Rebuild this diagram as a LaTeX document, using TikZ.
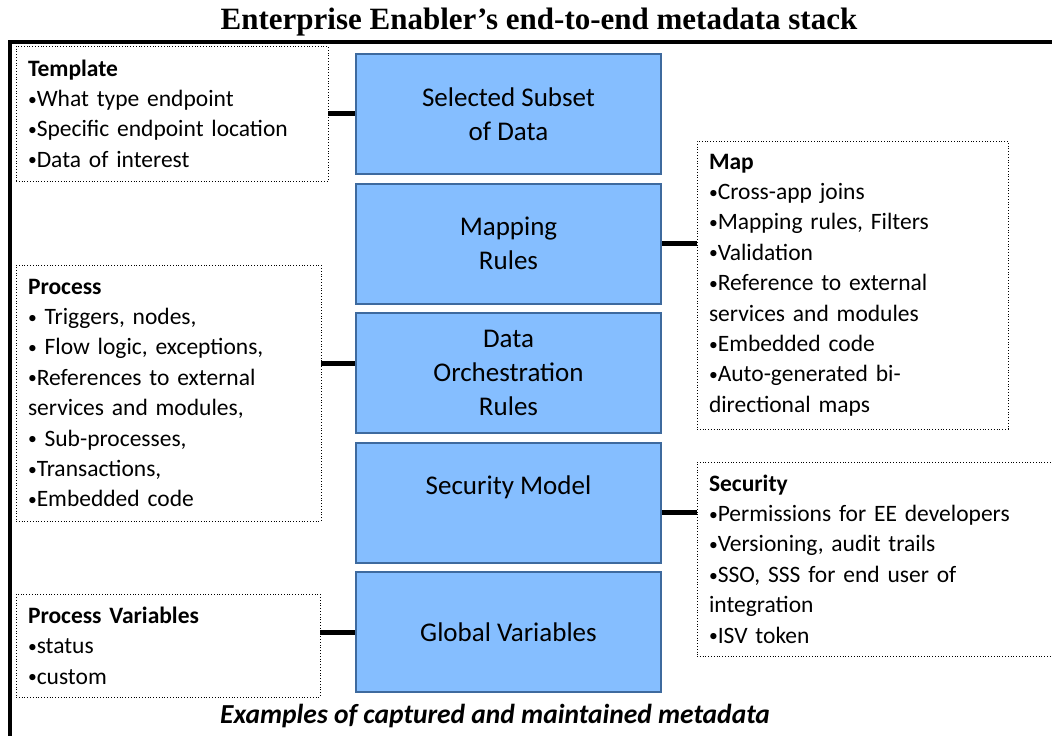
\documentclass[tikz,border=0pt]{standalone}
\usepackage{fontspec}
\setmainfont{Carlito}
\newfontfamily\titlefont{Liberation Serif}
\usepackage{xcolor}
\usepackage{tikz}
\usetikzlibrary{positioning}
\definecolor{stackfill}{RGB}{133,190,255}
\definecolor{stackedge}{RGB}{62,106,158}
\newcommand{\itemdot}{\raisebox{0.12ex}{\scalebox{0.75}{•}}}
\tikzstyle{layer} = [rectangle, minimum width=305pt, minimum height=120pt, align=center, draw=stackedge, line width=2pt, fill=stackfill, font=\fontsize{27}{34}\selectfont]
\tikzstyle{note} = [rectangle, draw=black, dotted, line width=0.8pt, align=left, inner xsep=12pt, inner ysep=0pt, font=\fontsize{23.5}{30.4}\selectfont]
\tikzstyle{link} = [line width=5pt]

\begin{document}
\begin{tikzpicture}[x=1pt, y=-1pt]
   \useasboundingbox (0,0) rectangle (1052,736);
   \clip (0,0) rectangle (1052,736);
   \draw [line width=4pt] (10,745) -- (10,42) -- (1060,42);
   \node (title) at (539,22) {\titlefont\bfseries\fontsize{31}{31}\selectfont Enterprise Enabler’s end-to-end metadata stack};
   \node (sel) [layer] at (508.5,114) {Selected Subset\\of Data};
   \node (rules) [layer, below=7.5pt of sel] {Mapping\\Rules};
   \node (orch) [layer, below=7.5pt of rules] {Data\\Orchestration\\Rules};
   \node (secm) [layer, below=7.5pt of orch] {Security Model\\~};
   \node (gvar) [layer, below=7.5pt of secm] {Global Variables};
   \node (tmpl) [note, text width=288pt, minimum height=135pt] at (172,113.5) {\textbf{Template}\\\itemdot What type endpoint\\\itemdot Specific endpoint location\\\itemdot Data of interest};
   \node (map) [note, text width=287pt, minimum height=288pt] at (852.5,285) {\textbf{Map}\\\itemdot Cross-app joins\\\itemdot Mapping rules, Filters\\\itemdot Validation\\\itemdot Reference to external\\services and modules\\\itemdot Embedded code\\\itemdot Auto-generated bi-\\directional maps};
   \node (proc) [note, text width=281pt, minimum height=256pt] at (168.5,393) {\textbf{Process}\\\itemdot{} Triggers, nodes,\\\itemdot{} Flow logic, exceptions,\\\itemdot References to external\\services and modules,\\\itemdot{} Sub-processes,\\\itemdot Transactions,\\\itemdot Embedded code};
   \node (sec) [note, text width=354pt, minimum height=194pt] at (886,559) {\textbf{Security}\\\itemdot Permissions for EE developers\\\itemdot Versioning, audit trails\\\itemdot SSO, SSS for end user of\\integration\\\itemdot ISV token};
   \node (pvar) [note, text width=280pt, minimum height=103pt] at (168,645.5) {\textbf{Process Variables}\\\itemdot status\\\itemdot custom};
   \draw [link] (tmpl.east) -- (tmpl.east -| sel.west);
   \draw [link] (rules.east) -- (rules.east -| map.west);
   \draw [link] ([yshift=9.5pt]orch.west) -- ([yshift=9.5pt]orch.west -| proc.east);
   \draw [link] ([yshift=-9.5pt]secm.east) -- ([yshift=-9.5pt]secm.east -| sec.west);
   \draw [link] (gvar.west) -- (gvar.west -| pvar.east);
   \node (caption) at (495,716) {\bfseries\itshape\fontsize{27.5}{27.5}\selectfont Examples of captured and maintained metadata};
\end{tikzpicture}
\end{document}
